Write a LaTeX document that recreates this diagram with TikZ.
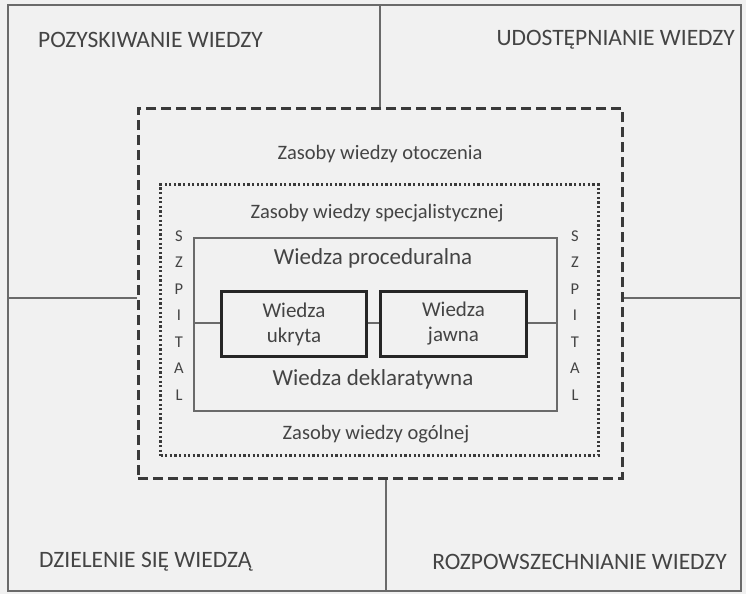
\documentclass[tikz,border=0pt]{standalone}
\usepackage{fontspec}
\setmainfont{Carlito}
\definecolor{bgc}{HTML}{F1F1F1}
\definecolor{txt}{HTML}{444444}
\definecolor{frm}{HTML}{6A6A6A}
\definecolor{dk}{HTML}{3A3A3A}
\begin{document}
\begin{tikzpicture}[x=1pt,y=-1pt,
  lbl/.style={text=txt,inner sep=0pt,font=\fontsize{23.5}{27}\selectfont},
  lblmd/.style={text=txt,inner sep=0pt,font=\fontsize{23}{27}\selectfont},
  lblsm/.style={text=txt,inner sep=0pt,font=\fontsize{20.5}{24}\selectfont},
  letter/.style={text=txt,inner sep=0pt,font=\fontsize{16.5}{19}\selectfont},
  frame/.style={draw=frm,line width=2.4pt},
  dashbox/.style={draw=dk,line width=2.6pt,dash pattern=on 10pt off 5pt},
  dotbox/.style={draw=dk,line width=3pt,dash pattern=on 2.2pt off 2.4pt},
  inner/.style={draw=frm,line width=2.2pt},
  kbox/.style={draw=black!85,line width=3pt,minimum height=65pt,anchor=north west,inner sep=0pt,align=center,text=txt,font=\fontsize{21}{25}\selectfont},
  conn/.style={draw=frm,line width=2.2pt}]
\useasboundingbox (0,0) rectangle (746,594);
\fill[bgc] (0,0) rectangle (746,594);
% outer frame
\coordinate (fTL) at (8,5);
\coordinate (fBR) at (741,591);
\draw[frame] (fTL) rectangle (fBR);
% dashed and dotted boxes
\node[dashbox,minimum width=484pt,minimum height=370pt,anchor=north west,inner sep=0pt] (env) at (137,107) {};
\node[dotbox,minimum width=438pt,minimum height=271pt,anchor=north west,inner sep=0pt] (spec) at (159,183) {};
\node[inner,minimum width=363pt,minimum height=173pt,anchor=north west,inner sep=0pt] (core) at (193,237) {};
% quadrant lines
\coordinate (qT) at (380,5);
\coordinate (qB) at (386,591);
\coordinate (qL) at (8,298);
\coordinate (qR) at (741,298);
\draw[frame] (qT) -- (qT |- env.north);
\draw[frame] (qB) -- (qB |- env.south);
\draw[frame] (qL) -- (qL -| env.west);
\draw[frame] (qR) -- (qR -| env.east);
% tacit/explicit boxes
\node[kbox,minimum width=145pt] (tacit) at (220,290) {Wiedza\\ukryta};
\node[kbox,minimum width=146pt] (expl) at (379,290) {Wiedza\\jawna};
\draw[conn] (core.west |- 0,323) -- (tacit.west |- 0,323);
\draw[conn] (tacit.east |- 0,323) -- (expl.west |- 0,323);
\draw[conn] (expl.east |- 0,323) -- (core.east |- 0,323);
% labels
\node[lbl,anchor=west] (acq) at (38,40) {POZYSKIWANIE WIEDZY};
\node[lbl,anchor=east] (shr) at (735,40) {UDOSTĘPNIANIE WIEDZY};
\node[lbl,anchor=west] (div) at (39,562) {DZIELENIE SIĘ WIEDZĄ};
\node[lbl,anchor=east] (dis) at (727,562) {ROZPOWSZECHNIANIE WIEDZY};
\node[lblsm] (zo) at (380,154) {Zasoby wiedzy otoczenia};
\node[lblsm] (zs) at (377,213) {Zasoby wiedzy specjalistycznej};
\node[lblmd] (wp) at (373,258) {Wiedza proceduralna};
\node[lblmd] (wd) at (373,379) {Wiedza deklaratywna};
\node[lblsm] (zg) at (376,434) {Zasoby wiedzy ogólnej};
% SZPITAL
\foreach \ch [count=\i from 0] in {S,Z,P,I,T,A,L}{
  \node[letter] (l\i) at (179,236+26.5*\i) {\ch};
  \node[letter] (r\i) at (575,236+26.5*\i) {\ch};
}
\end{tikzpicture}
\end{document}
